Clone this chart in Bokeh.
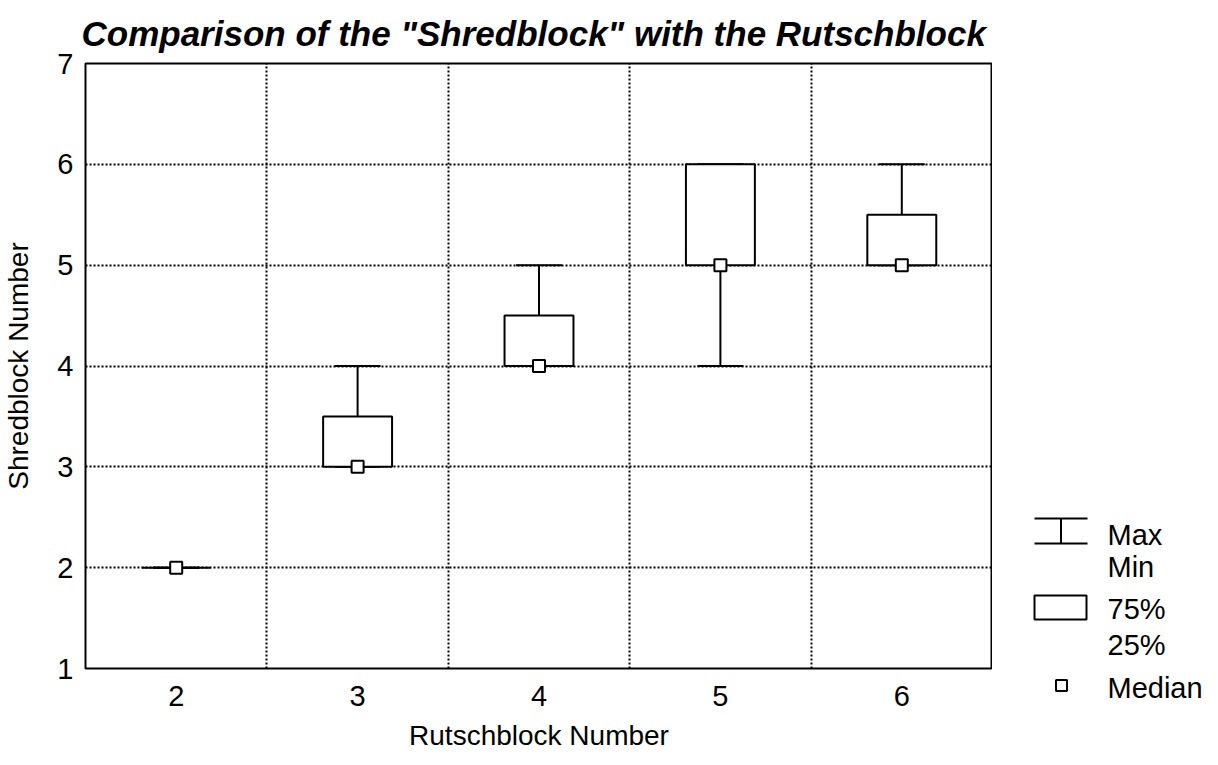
from bokeh.plotting import figure
from bokeh.layouts import row
from bokeh.models import FixedTicker, Range1d
from bokeh.embed import file_html
from bokeh.resources import INLINE
from bokeh.core.properties import value

# ---- data ----
rutsch = [2, 3, 4, 5, 6]
sh_min = [2, 3, 4, 4, 5]
sh_q25 = [2, 3, 4, 5, 5]
sh_median = [2, 3, 4, 5, 5]
sh_q75 = [2, 3.5, 4.5, 6, 5.5]
sh_max = [2, 4, 5, 6, 6]
y_ticks = [1, 2, 3, 4, 5, 6, 7]
legend_labels = ["Max", "Min", "75%", "25%", "Median"]

FONT = "Liberation Sans"

p = figure(width=990, height=749, output_backend="svg", toolbar_location=None,
           x_range=Range1d(1.5, 6.5), y_range=Range1d(1, 7),
           min_border_left=83, min_border_right=0, min_border_top=62, min_border_bottom=82,
           frame_width=907, frame_height=605)
p.frame_align = False
p.title.text = 'Comparison of the "Shredblock" with the Rutschblock'
p.title.text_font = FONT
p.title.text_font_size = "35px"
p.title.text_font_style = "bold italic"
p.title.text_color = "black"
p.title.align = "left"
p.title.offset = -4
p.title.standoff = 22

p.outline_line_color = "black"
p.outline_line_width = 2
p.background_fill_color = "white"
p.border_fill_color = "white"

for ax in (p.xaxis, p.yaxis):
    ax.axis_line_color = None
    ax.major_tick_line_color = None
    ax.minor_tick_line_color = None
    ax.major_tick_out = 0
    ax.major_tick_in = 0
    ax.major_label_text_font = FONT
    ax.major_label_text_font_size = "29px"
    ax.major_label_text_color = "black"
    ax.axis_label_text_font = FONT
    ax.axis_label_text_font_size = "28px"
    ax.axis_label_text_font_style = "normal"
    ax.axis_label_text_color = "black"

p.xaxis.ticker = FixedTicker(ticks=rutsch)
p.yaxis.ticker = FixedTicker(ticks=y_ticks)
p.xaxis.axis_label = "Rutschblock Number"
p.yaxis.axis_label = "Shredblock Number"
p.xaxis.major_label_standoff = 17
p.yaxis.major_label_standoff = 12
p.xaxis.axis_label_standoff = 11
p.yaxis.axis_label_standoff = 20

mid = [(a + b) / 2 for a, b in zip(rutsch[:-1], rutsch[1:])]
p.xgrid.ticker = FixedTicker(ticks=mid)
p.ygrid.ticker = FixedTicker(ticks=y_ticks)
for g in (p.xgrid, p.ygrid):
    g.grid_line_color = "black"
    g.grid_line_dash = "2 2"
    g.grid_line_width = 2
    g.grid_line_alpha = 1

# whiskers
p.segment(x0=rutsch, y0=sh_q75, x1=rutsch, y1=sh_max, line_color="black", line_width=2)
p.segment(x0=rutsch, y0=sh_q25, x1=rutsch, y1=sh_min, line_color="black", line_width=2)
p.scatter(x=rutsch, y=sh_max, marker="dash", size=46, line_color="black", line_width=2)
p.scatter(x=rutsch, y=sh_min, marker="dash", size=46, line_color="black", line_width=2)
# boxes
p.vbar(x=rutsch, width=0.38, bottom=sh_q25, top=sh_q75, fill_color="white",
       line_color="black", line_width=2)
# medians
p.scatter(x=rutsch, y=sh_median, marker="square", size=12, fill_color="white",
          line_color="black", line_width=2)

# ---- legend panel (pixel coordinates of the panel) ----
lg = figure(width=212, height=749, output_backend="svg", toolbar_location=None,
            x_range=Range1d(0, 212), y_range=Range1d(749, 0), min_border=0,
            x_axis_location=None, y_axis_location=None)
lg.frame_align = False
lg.title.visible = False
lg.grid.visible = False
lg.outline_line_color = None
lg.background_fill_color = "white"
lg.border_fill_color = "white"

# whisker icon
lg.segment(x0=[42, 42, 68.5], y0=[518, 543, 518], x1=[95, 95, 68.5], y1=[518, 543, 543],
           line_color="black", line_width=2)
# box icon
lg.quad(left=[42], right=[94], top=[595], bottom=[619], fill_color="white",
        line_color="black", line_width=2)
# median icon
lg.scatter(x=[69], y=[685], marker="square", size=11, fill_color="white",
           line_color="black", line_width=2)
lg.text(x=[115] * 5, y=[534, 566, 608, 644, 687], text=legend_labels,
        text_font=value(FONT), text_font_size="29px", text_baseline="middle",
        text_align="left", text_color="black")

layout = row(p, lg, spacing=0)
open("out.html", "w").write(file_html(layout, INLINE))
